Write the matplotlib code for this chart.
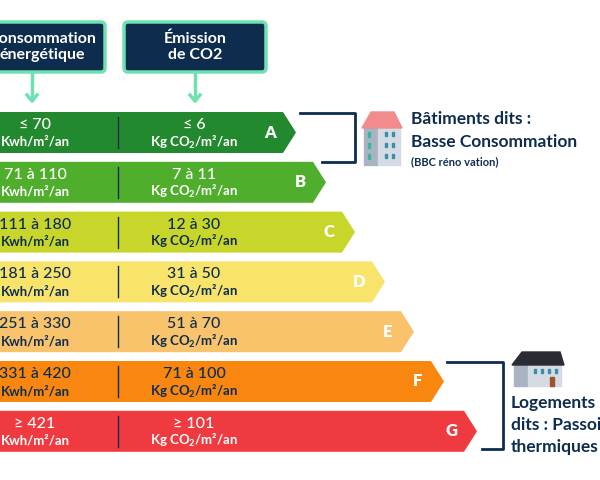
import matplotlib
matplotlib.use("Agg")
import matplotlib.pyplot as plt
from matplotlib.patches import Polygon, FancyBboxPatch, Rectangle

letters = ["A", "B", "C", "D", "E", "F", "G"]
conso = ["≤ 70", "71 à 110", "111 à 180", "181 à 250", "251 à 330", "331 à 420", "≥ 421"]
co2 = ["≤ 6", "7 à 11", "12 à 30", "31 à 50", "51 à 70", "71 à 100", "≥ 101"]
colors = ["#23892f", "#4fae2c", "#c8d62c", "#f8e46a", "#f8c36a", "#f8860f", "#ef3a40"]
text_colors = ["white", "white", "#0e2d4e", "#0e2d4e", "#0e2d4e", "#0e2d4e", "white"]
tips = [296, 326, 355, 385, 414, 444, 477]

plt.rcParams['font.family'] = ['Lato', 'DejaVu Sans']
plt.rcParams['mathtext.fontset'] = 'custom'
plt.rcParams['mathtext.rm'] = 'Lato:bold'
plt.rcParams['mathtext.bf'] = 'Lato:bold'
fig = plt.figure(figsize=(6, 4.8), dpi=100)
ax = fig.add_axes([0, 0, 1, 1])
ax.set_xlim(0, 600); ax.set_ylim(480, 0); ax.axis('off')
navy = "#0e2d4e"; mint = "#6fe0b0"

for i, L in enumerate(letters):
    y0 = 112 + i * 49.8; h = 41; tip = tips[i]
    ax.add_patch(Polygon([(-5, y0), (tip - 13, y0), (tip, y0 + h / 2), (tip - 13, y0 + h), (-5, y0 + h)],
                         closed=True, color=colors[i], lw=0))
    ax.plot([118, 118], [y0 + 5, y0 + h - 5], color=navy, lw=1)
    tc = text_colors[i]
    ax.text(35, y0 + 13, conso[i], ha='center', va='center', fontsize=11.5, color=tc, fontweight='medium')
    ax.text(35, y0 + 30, "Kwh/m²/an", ha='center', va='center', fontsize=9.5, color=tc, fontweight='bold')
    ax.text(194, y0 + 13, co2[i], ha='center', va='center', fontsize=11.5, color=tc, fontweight='medium')
    ax.text(194, y0 + 30, r"Kg CO$_2$/m²/an", ha='center', va='center', fontsize=9.5, color=tc, fontweight='bold')
    ax.text(tip - 26, y0 + h / 2, L, ha='center', va='center', fontsize=12, color='white', fontweight='heavy')

# header boxes
for (x0, x1, txt, ax_x) in [(-20, 105, "Consommation\nénergétique", 32), (124, 266, "Émission\nde CO2", 195)]:
    ax.add_patch(FancyBboxPatch((x0, 22), x1 - x0, 50, boxstyle="round,pad=0,rounding_size=4",
                                fc=navy, ec=mint, lw=2.5))
    ax.text((x0 + x1) / 2, 47, txt, ha='center', va='center', color='white', fontsize=11.5,
            fontweight='bold', linespacing=1.2)
    ax.plot([ax_x, ax_x], [74, 100], color=mint, lw=2.5)
    ax.plot([ax_x - 5, ax_x, ax_x + 5], [95, 101, 95], color=mint, lw=2.5)

# brackets
ax.plot([300, 355, 355, 322], [113, 113, 162, 162], color=navy, lw=2)
ax.plot([447, 503, 503, 482], [362, 362, 449, 449], color=navy, lw=2)

# icon 1: tall building
ax.add_patch(Rectangle((364, 125), 14, 40, color="#a9b3c3"))
ax.add_patch(Rectangle((378, 125), 22, 40, color="#d5dbe4"))
ax.add_patch(Polygon([(362, 128), (371, 112), (394, 112), (402, 128)], color="#f28c8c"))
for yy in (132, 143, 154):
    ax.add_patch(Rectangle((368, yy), 2, 5, color="#3ab5a0"))
    for xx in (385, 392):
        ax.add_patch(Rectangle((xx, yy), 2, 4, color="#3a8fa8"))
ax.text(411, 119, "Bâtiments dits :", fontsize=12.5, fontweight='bold', color=navy, va='center')
ax.text(411, 142, "Basse Consommation", fontsize=12.5, fontweight='bold', color=navy, va='center')
ax.text(411, 162, "(BBC réno vation)", fontsize=8, fontweight='bold', color=navy, va='center')

# icon 2: house
ax.add_patch(Rectangle((514, 364), 14, 22, color="#a9b3c3"))
ax.add_patch(Rectangle((528, 364), 33, 22, color="#d5dbe4"))
ax.add_patch(Polygon([(512, 365), (522, 352), (560, 352), (564, 365)], color="#2b2b33"))
ax.add_patch(Rectangle((550, 377), 4, 9, color="#a0522d"))
for xx in (534, 541, 548, 555):
    ax.add_patch(Rectangle((xx, 369), 2, 4, color="#3a8fa8"))
ax.text(511, 403, "Logements", fontsize=12.5, fontweight='bold', color=navy, va='center')
ax.text(511, 425, "dits : Passoires", fontsize=12.5, fontweight='bold', color=navy, va='center')
ax.text(511, 447, "thermiques", fontsize=12.5, fontweight='bold', color=navy, va='center')

fig.savefig("out.png", dpi=100, facecolor='white')
